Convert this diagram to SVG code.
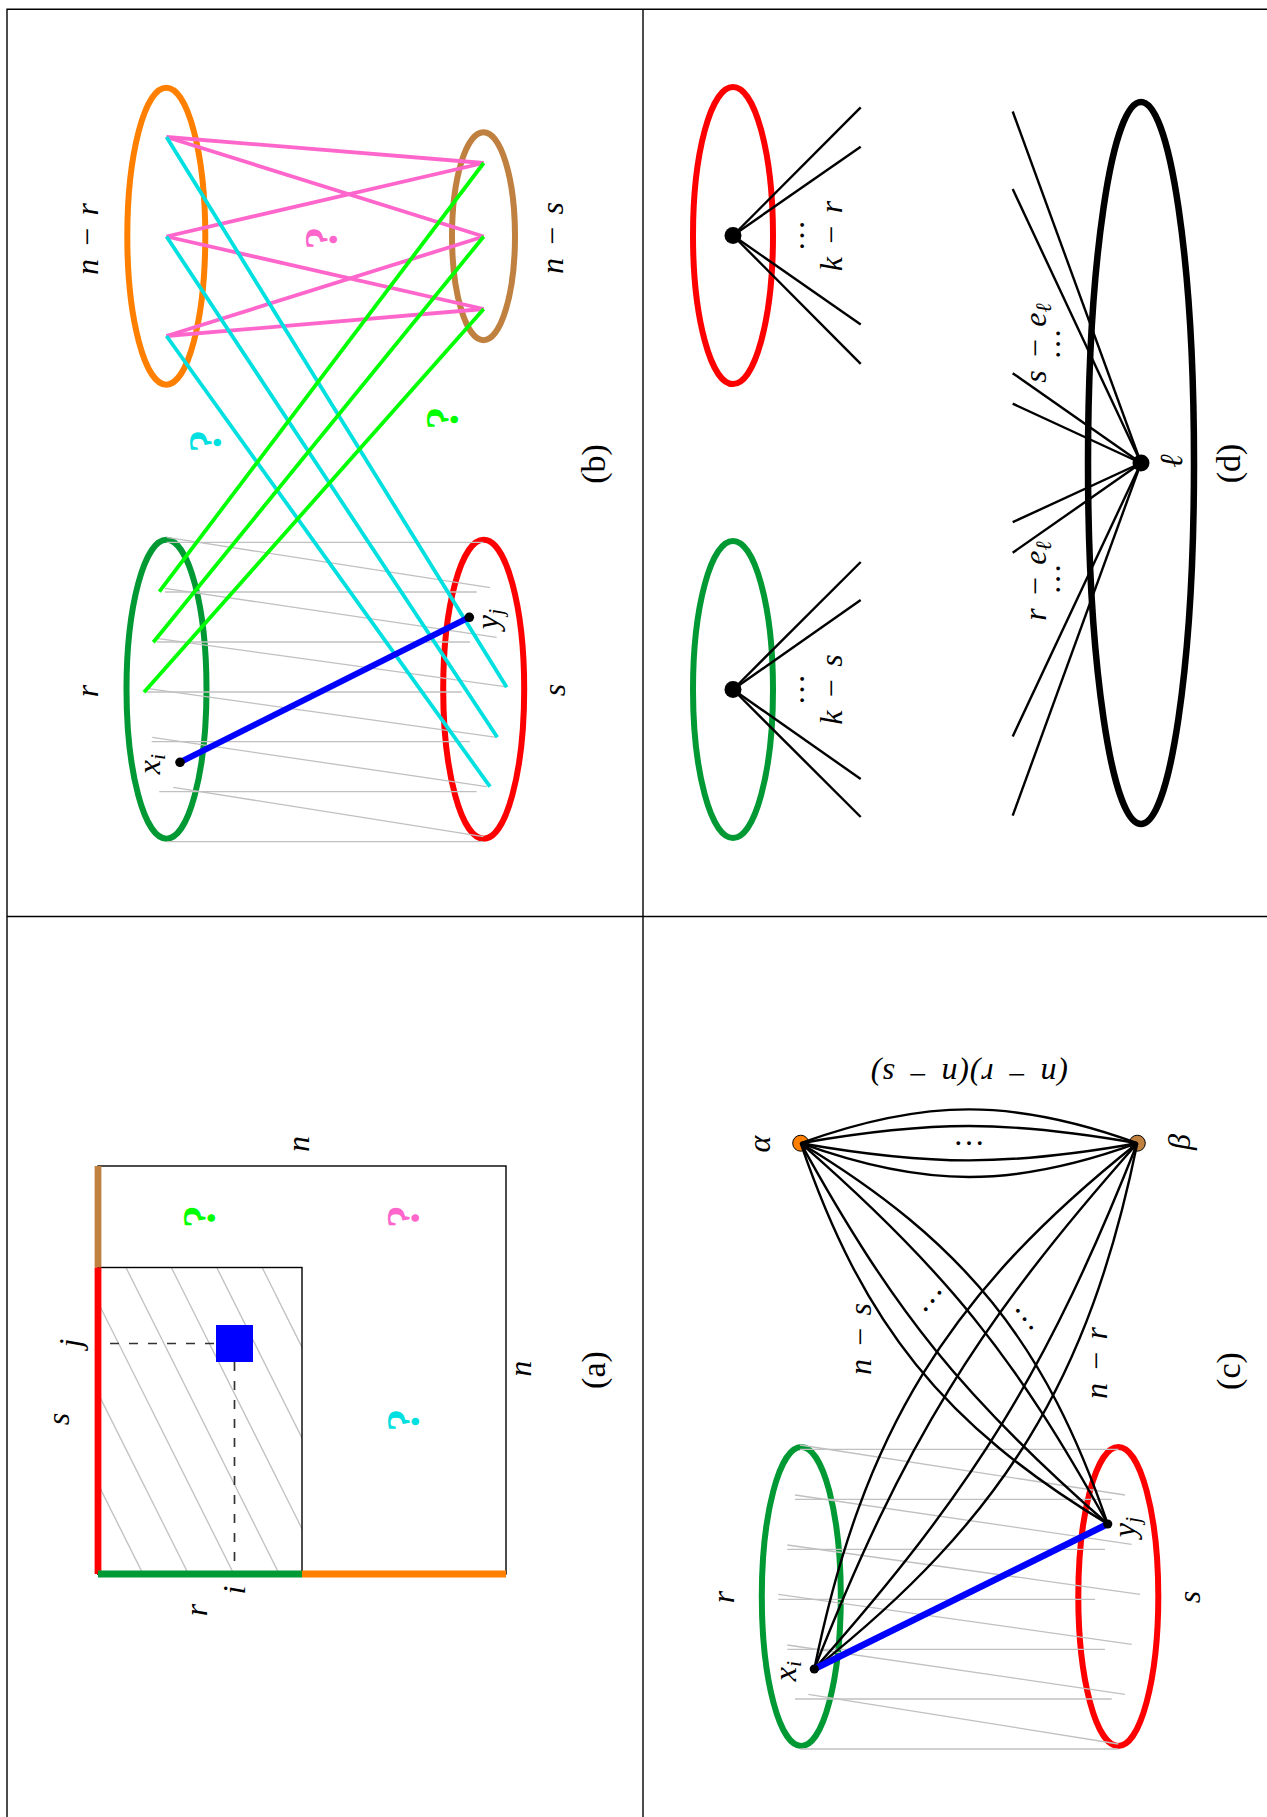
<svg xmlns="http://www.w3.org/2000/svg" width="1267" height="1817" viewBox="0 0 1267 1817">
<style>
.frame{fill:none;stroke:#000;stroke-width:1.4}
.gray{stroke:#c0c0c0;stroke-width:1.3;fill:none}
.ell{fill:none;stroke-width:6}
.thin{stroke:#000;stroke-width:2.4;fill:none}
.m{font-family:"Liberation Serif","DejaVu Serif","Times New Roman",serif;font-style:italic;font-size:32px;text-anchor:middle;word-spacing:3px}
.cap{font-family:"Liberation Serif","DejaVu Serif","Times New Roman",serif;font-size:34px;text-anchor:middle}
.q{font-family:"Liberation Serif","DejaVu Serif","Times New Roman",serif;font-weight:bold;font-size:46px;text-anchor:middle}
.dots{font-family:"Liberation Serif","DejaVu Serif","Times New Roman",serif;font-size:32px;text-anchor:middle}
.sub{font-size:22px}
</style>
<defs>
<clipPath id="innerClip"><rect x="98" y="1267.5" width="204" height="306.5"/></clipPath>
</defs>
<rect width="1267" height="1817" fill="#fff"/>
<path class="frame" d="M7,1817 V9.3 H1267 M643,9.3 V1817 M7,916.5 H1267"/>

<!-- Panel (b) -->
<g id="panel-b">
  <g id="b-orange"><ellipse class="ell" cx="166.3" cy="236.2" rx="39" ry="148.5" stroke="#ff8000"/></g>
  <g id="b-brown"><ellipse class="ell" cx="483.5" cy="236.2" rx="31.5" ry="104" stroke="#bf8040"/></g>
  <g id="b-green"><ellipse class="ell" cx="166.5" cy="689.3" rx="40" ry="149.5" stroke="#009933"/></g>
  <g id="b-red"><ellipse class="ell" cx="483.7" cy="689.3" rx="40.5" ry="149.5" stroke="#ff0000"/></g>
  <g id="b-connectors">
    <g class="gray">
      <line x1="166.7" y1="542.3" x2="483.3" y2="542.3"/>
      <line x1="165" y1="592" x2="476.7" y2="592"/>
      <line x1="156.7" y1="642" x2="470" y2="642"/>
      <line x1="146.7" y1="692" x2="461.7" y2="692"/>
      <line x1="151.7" y1="741.7" x2="470" y2="741.7"/>
      <line x1="159.3" y1="791.7" x2="476.7" y2="791.7"/>
      <line x1="166.7" y1="841.7" x2="483.3" y2="841.7"/>
      <line x1="166.7" y1="537.3" x2="490" y2="587.7"/>
      <line x1="165" y1="588.3" x2="496.7" y2="637.3"/>
      <line x1="156.7" y1="638.3" x2="505" y2="686.7"/>
      <line x1="146.7" y1="688.3" x2="496.7" y2="737.3"/>
      <line x1="152.3" y1="737.3" x2="486.7" y2="786.7"/>
      <line x1="173.3" y1="787.3" x2="483.3" y2="836.7"/>
    </g>
    <g stroke="#ff66cc" stroke-width="3.8">
      <line x1="166.5" y1="137" x2="483.7" y2="163"/>
      <line x1="166.5" y1="137" x2="483.7" y2="236.5"/>
      <line x1="166.5" y1="236.5" x2="483.7" y2="163"/>
      <line x1="166.5" y1="236.5" x2="483.7" y2="309"/>
      <line x1="166.5" y1="336" x2="483.7" y2="236.5"/>
      <line x1="166.5" y1="336" x2="483.7" y2="309"/>
    </g>
    <g stroke="#00e0e0" stroke-width="3.8">
      <line x1="166.5" y1="137" x2="506.7" y2="687.3"/>
      <line x1="166.5" y1="236.5" x2="497.3" y2="737.3"/>
      <line x1="166.5" y1="336" x2="490" y2="786.7"/>
    </g>
    <g stroke="#00ff00" stroke-width="3.8">
      <line x1="483.7" y1="163" x2="159.3" y2="591.7"/>
      <line x1="483.7" y1="236.5" x2="153.3" y2="642.3"/>
      <line x1="483.7" y1="309" x2="144" y2="692.3"/>
    </g>
    <line x1="180" y1="762.3" x2="469.3" y2="617.3" stroke="#0000ff" stroke-width="6"/>
  </g>
  <g id="b-xi"><circle cx="180" cy="762.3" r="4.8"/></g>
  <g id="b-yj"><circle cx="469.3" cy="617.3" r="4.8"/></g>
  <text class="m" transform="translate(98 239) rotate(-90)">n − r</text>
  <text class="m" transform="translate(563 238) rotate(-90)">n − s</text>
  <text class="m" transform="translate(98 691) rotate(-90)">r</text>
  <text class="m" transform="translate(565 690) rotate(-90)">s</text>
  <text class="m" transform="translate(160 764) rotate(-90)">x<tspan class="sub" dy="5">i</tspan></text>
  <text class="m" transform="translate(498 619) rotate(-90)">y<tspan class="sub" dy="5">j</tspan></text>
  <text class="q" fill="#00e0e0" transform="translate(221 441) rotate(-90)">?</text>
  <text class="q" fill="#ff66cc" transform="translate(337 238) rotate(-90)">?</text>
  <text class="q" fill="#00ff00" transform="translate(458 418) rotate(-90)">?</text>
  <text class="cap" transform="translate(604.5 464) rotate(-90)">(b)</text>
</g>

<!-- Panel (d) -->
<g id="panel-d">
  <g id="d-red"><ellipse class="ell" cx="733" cy="235.6" rx="40" ry="148.5" stroke="#ff0000"/></g>
  <g id="d-green"><ellipse class="ell" cx="733" cy="689.5" rx="40" ry="148.5" stroke="#009933"/></g>
  <g id="d-black"><ellipse cx="1141" cy="463" rx="53" ry="361" fill="none" stroke="#000" stroke-width="6.5"/></g>
  <g id="d-connectors" class="thin">
    <line x1="733" y1="235.5" x2="860.7" y2="107.4"/>
    <line x1="733" y1="235.5" x2="860.7" y2="146.7"/>
    <line x1="733" y1="235.5" x2="860.7" y2="324.5"/>
    <line x1="733" y1="235.5" x2="860.7" y2="363.8"/>
    <line x1="733" y1="689.5" x2="860.7" y2="562"/>
    <line x1="733" y1="689.5" x2="860.7" y2="600"/>
    <line x1="733" y1="689.5" x2="860.7" y2="779"/>
    <line x1="733" y1="689.5" x2="860.7" y2="817"/>
    <line x1="1141" y1="463" x2="1012.7" y2="111.5"/>
    <line x1="1141" y1="463" x2="1012.7" y2="189"/>
    <line x1="1141" y1="463" x2="1012.7" y2="373.2"/>
    <line x1="1141" y1="463" x2="1012.7" y2="403.7"/>
    <line x1="1141" y1="463" x2="1012.7" y2="522.2"/>
    <line x1="1141" y1="463" x2="1012.7" y2="552.7"/>
    <line x1="1141" y1="463" x2="1012.7" y2="736.4"/>
    <line x1="1141" y1="463" x2="1012.7" y2="815.6"/>
  </g>
  <g id="d-v1"><circle cx="733" cy="235.5" r="8.5"/></g>
  <g id="d-v2"><circle cx="733" cy="689.5" r="8.5"/></g>
  <g id="d-vl"><circle cx="1141" cy="463" r="8.5"/></g>
  <text class="dots" transform="translate(803.6 235.5) rotate(-90)">…</text>
  <text class="m" transform="translate(842 236) rotate(-90)">k − r</text>
  <text class="dots" transform="translate(803.6 689.5) rotate(-90)">…</text>
  <text class="m" transform="translate(842 689.5) rotate(-90)">k − s</text>
  <text class="m" transform="translate(1046 343) rotate(-90)">s − e<tspan class="sub" dy="5">ℓ</tspan></text>
  <text class="dots" transform="translate(1059.6 344) rotate(-90)">…</text>
  <text class="m" transform="translate(1046 581) rotate(-90)">r − e<tspan class="sub" dy="5">ℓ</tspan></text>
  <text class="dots" transform="translate(1059.6 579) rotate(-90)">…</text>
  <text class="m" transform="translate(1182 461) rotate(-90)">ℓ</text>
  <text class="cap" transform="translate(1239.5 463.5) rotate(-90)">(d)</text>
</g>

<!-- Panel (a) -->
<g id="panel-a">
  <g id="a-outer"><rect x="98" y="1166" width="408" height="408" fill="none" stroke="#000" stroke-width="1.4"/></g>
  <g id="a-inner">
    <g clip-path="url(#innerClip)" class="gray">
      <line x1="193.4" y1="1130" x2="396.6" y2="1536.4"/>
      <line x1="148" y1="1130" x2="351.2" y2="1536.4"/>
      <line x1="102.6" y1="1130" x2="305.8" y2="1536.4"/>
      <line x1="57.2" y1="1130" x2="335.2" y2="1686"/>
      <line x1="11.8" y1="1130" x2="289.8" y2="1686"/>
      <line x1="-33.6" y1="1130" x2="244.4" y2="1686"/>
      <line x1="-79" y1="1130" x2="199" y2="1686"/>
    </g>
    <rect x="98" y="1267.5" width="204" height="306.5" fill="none" stroke="#000" stroke-width="1.4"/>
  </g>
  <g id="a-edges" stroke-width="6.8">
    <line x1="98" y1="1166" x2="98" y2="1267.5" stroke="#bf8040"/>
    <line x1="98" y1="1267.5" x2="98" y2="1574" stroke="#ff0000"/>
    <line x1="98" y1="1574" x2="302" y2="1574" stroke="#009933"/>
    <line x1="302" y1="1574" x2="506" y2="1574" stroke="#ff8000"/>
  </g>
  <g id="a-dashes" stroke="#333" stroke-width="1.7" stroke-dasharray="9 10" fill="none">
    <line x1="110" y1="1343.5" x2="216" y2="1343.5"/>
    <line x1="234.5" y1="1362" x2="234.5" y2="1563"/>
  </g>
  <g id="a-cell"><rect x="216" y="1325" width="37" height="37" fill="#0000ff"/></g>
  <text class="m" transform="translate(309 1144) rotate(-90)">n</text>
  <text class="m" transform="translate(531 1368.7) rotate(-90)">n</text>
  <text class="m" transform="translate(69 1419) rotate(-90)">s</text>
  <text class="m" transform="translate(81 1343) rotate(-90)">j</text>
  <text class="m" transform="translate(207 1610) rotate(-90)">r</text>
  <text class="m" transform="translate(245 1590) rotate(-90)">i</text>
  <text class="q" fill="#00ff00" transform="translate(215 1216.5) rotate(-90)">?</text>
  <text class="q" fill="#ff66cc" transform="translate(419 1216.5) rotate(-90)">?</text>
  <text class="q" fill="#00e0e0" transform="translate(419 1420) rotate(-90)">?</text>
  <text class="cap" transform="translate(604.5 1370) rotate(-90)">(a)</text>
</g>

<!-- Panel (c) -->
<g id="panel-c">
  <g id="c-green"><ellipse class="ell" cx="801.3" cy="1596.5" rx="39.5" ry="149.5" stroke="#009933"/></g>
  <g id="c-red"><ellipse class="ell" cx="1118.3" cy="1596.5" rx="40" ry="149.5" stroke="#ff0000"/></g>
  <g id="c-alpha"><circle cx="800.7" cy="1143.2" r="8" fill="#ff8000" stroke="#000" stroke-width="1"/></g>
  <g id="c-beta"><circle cx="1137.3" cy="1143.2" r="8" fill="#bf8040" stroke="#000" stroke-width="1"/></g>
  <g id="c-connectors">
    <g class="gray">
      <line x1="800" y1="1449.3" x2="1118.3" y2="1449.3"/>
      <line x1="795" y1="1499.3" x2="1111.7" y2="1499.3"/>
      <line x1="787.3" y1="1549.3" x2="1105" y2="1549.3"/>
      <line x1="778.3" y1="1599.3" x2="1095" y2="1599.3"/>
      <line x1="787.3" y1="1649.3" x2="1105" y2="1649.3"/>
      <line x1="795" y1="1699" x2="1111.7" y2="1699"/>
      <line x1="800" y1="1749" x2="1118.3" y2="1749"/>
      <line x1="800" y1="1445" x2="1125" y2="1495"/>
      <line x1="795" y1="1495" x2="1131.7" y2="1544.3"/>
      <line x1="787.3" y1="1545" x2="1140" y2="1594.3"/>
      <line x1="778.3" y1="1594.3" x2="1131.7" y2="1644.3"/>
      <line x1="787.3" y1="1645" x2="1125" y2="1694.3"/>
      <line x1="808.3" y1="1694.3" x2="1118.3" y2="1744"/>
    </g>
    <g class="thin">
      <path d="M800.7,1143.2 C924.5,1098.1 1013.5,1098.1 1137.3,1143.2"/>
      <path d="M800.7,1143.2 C930.5,1120.3 1007.5,1120.3 1137.3,1143.2"/>
      <path d="M800.7,1143.2 C930.5,1166.1 1007.5,1166.1 1137.3,1143.2"/>
      <path d="M800.7,1143.2 C924.5,1188.3 1013.5,1188.3 1137.3,1143.2"/>
      <path d="M800.7,1143.2 C862.6,1324.4 943.8,1425 1107.7,1524"/>
      <path d="M800.7,1143.2 C893.2,1310.9 963.4,1398.1 1107.7,1524"/>
      <path d="M800.7,1143.2 C945,1269.1 1015.2,1356.3 1107.7,1524"/>
      <path d="M800.7,1143.2 C964.6,1242.2 1045.8,1342.8 1107.7,1524"/>
      <path d="M1137.3,1143.2 C948.1,1293.4 862.7,1432.3 814.3,1669"/>
      <path d="M1137.3,1143.2 C977,1323.9 903.1,1444.3 814.3,1669"/>
      <path d="M1137.3,1143.2 C1048.5,1367.9 974.6,1488.3 814.3,1669"/>
      <path d="M1137.3,1143.2 C1088.9,1379.9 1003.5,1518.8 814.3,1669"/>
    </g>
    <line x1="814.3" y1="1669" x2="1107.7" y2="1524" stroke="#0000ff" stroke-width="6.5"/>
  </g>
  <g id="c-xi"><circle cx="814.3" cy="1669" r="4.6"/></g>
  <g id="c-yj"><circle cx="1107.7" cy="1524" r="4.6"/></g>
  <text class="m" transform="translate(969 1063.5) rotate(180)" letter-spacing="0.8">(n − r)(n − s)</text>
  <text class="dots" x="969" y="1144.6">…</text>
  <text class="dots" transform="translate(932.5 1301) rotate(-50.4)" y="1.6">…</text>
  <text class="dots" transform="translate(1024.7 1319) rotate(51.8)" y="1.6">…</text>
  <text class="m" transform="translate(770 1144) rotate(-90)">α</text>
  <text class="m" transform="translate(1190 1142) rotate(-90)">β</text>
  <text class="m" transform="translate(871 1339) rotate(-90)">n − s</text>
  <text class="m" transform="translate(1107 1363) rotate(-90)">n − r</text>
  <text class="m" transform="translate(734 1597) rotate(-90)">r</text>
  <text class="m" transform="translate(1199.5 1597) rotate(-90)">s</text>
  <text class="m" transform="translate(796 1671) rotate(-90)">x<tspan class="sub" dy="5">i</tspan></text>
  <text class="m" transform="translate(1135 1527) rotate(-90)">y<tspan class="sub" dy="5">j</tspan></text>
  <text class="cap" transform="translate(1239.5 1371) rotate(-90)">(c)</text>
</g>
</svg>
